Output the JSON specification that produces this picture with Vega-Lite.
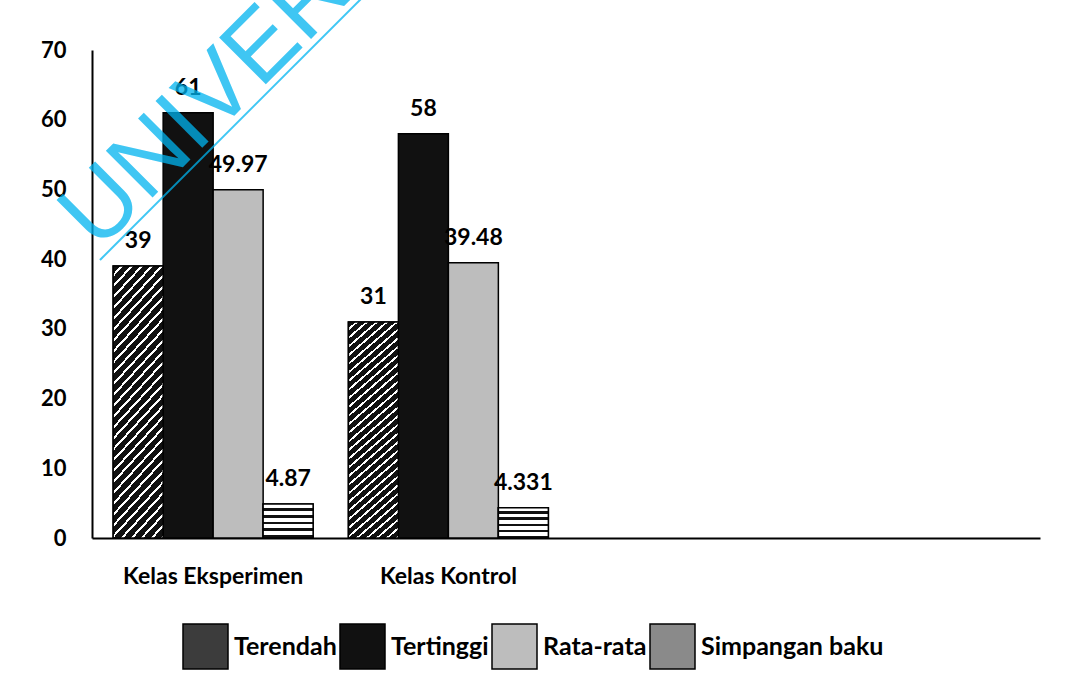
{
  "$schema": "https://vega.github.io/schema/vega-lite/v6.json",
  "width": 948,
  "height": 488,
  "autosize": {"type": "none"},
  "padding": {"left": 92, "top": 50, "right": 26, "bottom": 144},
  "background": "white",
  "config": {"view": {"stroke": null}, "font": "Lato"},
  "data": {"values": [
    {"kelas": "Kelas Eksperimen", "stat": "Terendah", "nilai": 39},
    {"kelas": "Kelas Eksperimen", "stat": "Tertinggi", "nilai": 61},
    {"kelas": "Kelas Eksperimen", "stat": "Rata-rata", "nilai": 49.97},
    {"kelas": "Kelas Eksperimen", "stat": "Simpangan baku", "nilai": 4.87},
    {"kelas": "Kelas Kontrol", "stat": "Terendah", "nilai": 31},
    {"kelas": "Kelas Kontrol", "stat": "Tertinggi", "nilai": 58},
    {"kelas": "Kelas Kontrol", "stat": "Rata-rata", "nilai": 39.48},
    {"kelas": "Kelas Kontrol", "stat": "Simpangan baku", "nilai": 4.331}
  ]},
  "layer": [
    {
      "mark": {"type": "bar", "stroke": "#000000", "strokeWidth": 1.5},
      "encoding": {
        "x": {"field": "kelas", "type": "nominal",
          "scale": {"domain": ["Kelas Eksperimen", "Kelas Kontrol", "k3", "k4"], "paddingInner": 0.15, "paddingOuter": 0.09},
          "axis": {"title": null, "labelAngle": 0, "ticks": false, "domain": true, "domainColor": "#000000", "domainWidth": 2,
            "labelPadding": 27, "labelFont": "Lato", "labelFontSize": 23, "labelFontWeight": "bold", "labelColor": "#000000", "labelLimit": 400,
            "labelExpr": "(datum.value == 'k3' || datum.value == 'k4') ? '' : datum.value", "grid": false}},
        "xOffset": {"field": "stat", "type": "nominal",
          "scale": {"domain": ["Terendah", "Tertinggi", "Rata-rata", "Simpangan baku"], "paddingInner": 0, "paddingOuter": 0}},
        "y": {"field": "nilai", "type": "quantitative",
          "scale": {"domain": [0, 70]},
          "axis": {"title": null, "values": [0, 10, 20, 30, 40, 50, 60, 70], "ticks": false, "grid": false, "domain": true,
            "domainColor": "#000000", "domainWidth": 2, "labelPadding": 26, "labelFont": "Lato", "labelFontSize": 22,
            "labelFontWeight": "bold", "labelColor": "#000000"}},
        "color": {"field": "stat", "type": "nominal",
          "scale": {"domain": ["Terendah", "Tertinggi", "Rata-rata", "Simpangan baku"],
            "range": ["#3c3c3c", "#111111", "#bdbdbd", "#8a8a8a"]},
          "legend": {"title": null, "orient": "none", "legendX": 90, "legendY": 573, "direction": "horizontal",
            "symbolType": "square", "symbolSize": 2025, "symbolStrokeColor": "#000000", "symbolStrokeWidth": 1.5,
            "labelFont": "Lato", "labelFontSize": 25, "labelFontWeight": "bold", "labelColor": "#000000",
            "labelOffset": 5, "columnPadding": 0, "labelLimit": 300, "padding": 0}
        }
      }
    },
    {
      "transform": [{"filter": "datum.stat === 'Terendah'"}],
      "mark": {"type": "bar", "stroke": "#000000", "strokeWidth": 1.5,
        "fill": {"gradient": "linear", "x1": 0, "y1": 0, "x2": 0.2308, "y2": 1.154, "stops": [
{"offset":0,"color":"#111"},{"offset":0.024,"color":"#111"},{"offset":0.024,"color":"#fff"},{"offset":0.0333,"color":"#fff"},
{"offset":0.0333,"color":"#111"},{"offset":0.0573,"color":"#111"},{"offset":0.0573,"color":"#fff"},{"offset":0.0667,"color":"#fff"},
{"offset":0.0667,"color":"#111"},{"offset":0.0907,"color":"#111"},{"offset":0.0907,"color":"#fff"},{"offset":0.1,"color":"#fff"},
{"offset":0.1,"color":"#111"},{"offset":0.124,"color":"#111"},{"offset":0.124,"color":"#fff"},{"offset":0.1333,"color":"#fff"},
{"offset":0.1333,"color":"#111"},{"offset":0.1573,"color":"#111"},{"offset":0.1573,"color":"#fff"},{"offset":0.1667,"color":"#fff"},
{"offset":0.1667,"color":"#111"},{"offset":0.1907,"color":"#111"},{"offset":0.1907,"color":"#fff"},{"offset":0.2,"color":"#fff"},
{"offset":0.2,"color":"#111"},{"offset":0.224,"color":"#111"},{"offset":0.224,"color":"#fff"},{"offset":0.2333,"color":"#fff"},
{"offset":0.2333,"color":"#111"},{"offset":0.2573,"color":"#111"},{"offset":0.2573,"color":"#fff"},{"offset":0.2667,"color":"#fff"},
{"offset":0.2667,"color":"#111"},{"offset":0.2907,"color":"#111"},{"offset":0.2907,"color":"#fff"},{"offset":0.3,"color":"#fff"},
{"offset":0.3,"color":"#111"},{"offset":0.324,"color":"#111"},{"offset":0.324,"color":"#fff"},{"offset":0.3333,"color":"#fff"},
{"offset":0.3333,"color":"#111"},{"offset":0.3573,"color":"#111"},{"offset":0.3573,"color":"#fff"},{"offset":0.3667,"color":"#fff"},
{"offset":0.3667,"color":"#111"},{"offset":0.3907,"color":"#111"},{"offset":0.3907,"color":"#fff"},{"offset":0.4,"color":"#fff"},
{"offset":0.4,"color":"#111"},{"offset":0.424,"color":"#111"},{"offset":0.424,"color":"#fff"},{"offset":0.4333,"color":"#fff"},
{"offset":0.4333,"color":"#111"},{"offset":0.4573,"color":"#111"},{"offset":0.4573,"color":"#fff"},{"offset":0.4667,"color":"#fff"},
{"offset":0.4667,"color":"#111"},{"offset":0.4907,"color":"#111"},{"offset":0.4907,"color":"#fff"},{"offset":0.5,"color":"#fff"},
{"offset":0.5,"color":"#111"},{"offset":0.524,"color":"#111"},{"offset":0.524,"color":"#fff"},{"offset":0.5333,"color":"#fff"},
{"offset":0.5333,"color":"#111"},{"offset":0.5573,"color":"#111"},{"offset":0.5573,"color":"#fff"},{"offset":0.5667,"color":"#fff"},
{"offset":0.5667,"color":"#111"},{"offset":0.5907,"color":"#111"},{"offset":0.5907,"color":"#fff"},{"offset":0.6,"color":"#fff"},
{"offset":0.6,"color":"#111"},{"offset":0.624,"color":"#111"},{"offset":0.624,"color":"#fff"},{"offset":0.6333,"color":"#fff"},
{"offset":0.6333,"color":"#111"},{"offset":0.6573,"color":"#111"},{"offset":0.6573,"color":"#fff"},{"offset":0.6667,"color":"#fff"},
{"offset":0.6667,"color":"#111"},{"offset":0.6907,"color":"#111"},{"offset":0.6907,"color":"#fff"},{"offset":0.7,"color":"#fff"},
{"offset":0.7,"color":"#111"},{"offset":0.724,"color":"#111"},{"offset":0.724,"color":"#fff"},{"offset":0.7333,"color":"#fff"},
{"offset":0.7333,"color":"#111"},{"offset":0.7573,"color":"#111"},{"offset":0.7573,"color":"#fff"},{"offset":0.7667,"color":"#fff"},
{"offset":0.7667,"color":"#111"},{"offset":0.7907,"color":"#111"},{"offset":0.7907,"color":"#fff"},{"offset":0.8,"color":"#fff"},
{"offset":0.8,"color":"#111"},{"offset":0.824,"color":"#111"},{"offset":0.824,"color":"#fff"},{"offset":0.8333,"color":"#fff"},
{"offset":0.8333,"color":"#111"},{"offset":0.8573,"color":"#111"},{"offset":0.8573,"color":"#fff"},{"offset":0.8667,"color":"#fff"},
{"offset":0.8667,"color":"#111"},{"offset":0.8907,"color":"#111"},{"offset":0.8907,"color":"#fff"},{"offset":0.9,"color":"#fff"},
{"offset":0.9,"color":"#111"},{"offset":0.924,"color":"#111"},{"offset":0.924,"color":"#fff"},{"offset":0.9333,"color":"#fff"},
{"offset":0.9333,"color":"#111"},{"offset":0.9573,"color":"#111"},{"offset":0.9573,"color":"#fff"},{"offset":0.9667,"color":"#fff"},
{"offset":0.9667,"color":"#111"},{"offset":0.9907,"color":"#111"},{"offset":0.9907,"color":"#fff"},{"offset":1,"color":"#fff"}
        ]}},
      "encoding": {
        "x": {"field": "kelas", "type": "nominal"},
        "xOffset": {"field": "stat", "type": "nominal"},
        "y": {"field": "nilai", "type": "quantitative"}
      }
    },
    {
      "transform": [{"filter": "datum.stat === 'Simpangan baku'"}],
      "mark": {"type": "bar", "stroke": "#000000", "strokeWidth": 1.5,
        "fill": {"gradient": "linear", "x1": 0, "y1": 0, "x2": 0, "y2": 1, "stops": [
{"offset":0,"color":"#fff"},{"offset":0.12,"color":"#fff"},{"offset":0.12,"color":"#111"},{"offset":0.2,"color":"#111"},
{"offset":0.2,"color":"#fff"},{"offset":0.32,"color":"#fff"},{"offset":0.32,"color":"#111"},{"offset":0.4,"color":"#111"},
{"offset":0.4,"color":"#fff"},{"offset":0.52,"color":"#fff"},{"offset":0.52,"color":"#111"},{"offset":0.6,"color":"#111"},
{"offset":0.6,"color":"#fff"},{"offset":0.72,"color":"#fff"},{"offset":0.72,"color":"#111"},{"offset":0.8,"color":"#111"},
{"offset":0.8,"color":"#fff"},{"offset":0.92,"color":"#fff"},{"offset":0.92,"color":"#111"},{"offset":1,"color":"#111"}
        ]}},
      "encoding": {
        "x": {"field": "kelas", "type": "nominal"},
        "xOffset": {"field": "stat", "type": "nominal"},
        "y": {"field": "nilai", "type": "quantitative"}
      }
    },
    {
      "mark": {"type": "text", "dy": -18, "baseline": "alphabetic", "align": "center", "font": "Lato", "fontSize": 23, "fontWeight": "bold", "color": "#000000"},
      "encoding": {
        "x": {"field": "kelas", "type": "nominal"},
        "xOffset": {"field": "stat", "type": "nominal"},
        "y": {"field": "nilai", "type": "quantitative"},
        "text": {"field": "nilai", "type": "nominal"}
      }
    },
    {
      "data": {"values": [{"teks": "UNIVER"}]},
      "mark": {"type": "text", "angle": -45, "align": "left", "baseline": "alphabetic", "font": "Liberation Sans", "fontSize": 96, "color": "#00b4f0", "opacity": 0.75},
      "encoding": {
        "x": {"datum": "Kelas Eksperimen", "bandPosition": -0.076},
        "y": {"datum": 41.03},
        "text": {"field": "teks", "type": "nominal"}
      }
    },
    {
      "data": {"values": [{"teks": "UNIVER"}]},
      "mark": {"type": "rule", "color": "#00b4f0", "opacity": 0.75, "strokeWidth": 2},
      "encoding": {
        "x": {"datum": "Kelas Eksperimen", "bandPosition": -0.066},
        "y": {"datum": 39.88},
        "x2": {"datum": "Kelas Kontrol"},
        "y2": {"datum": 89.86}
      }
    }
  ]
}
